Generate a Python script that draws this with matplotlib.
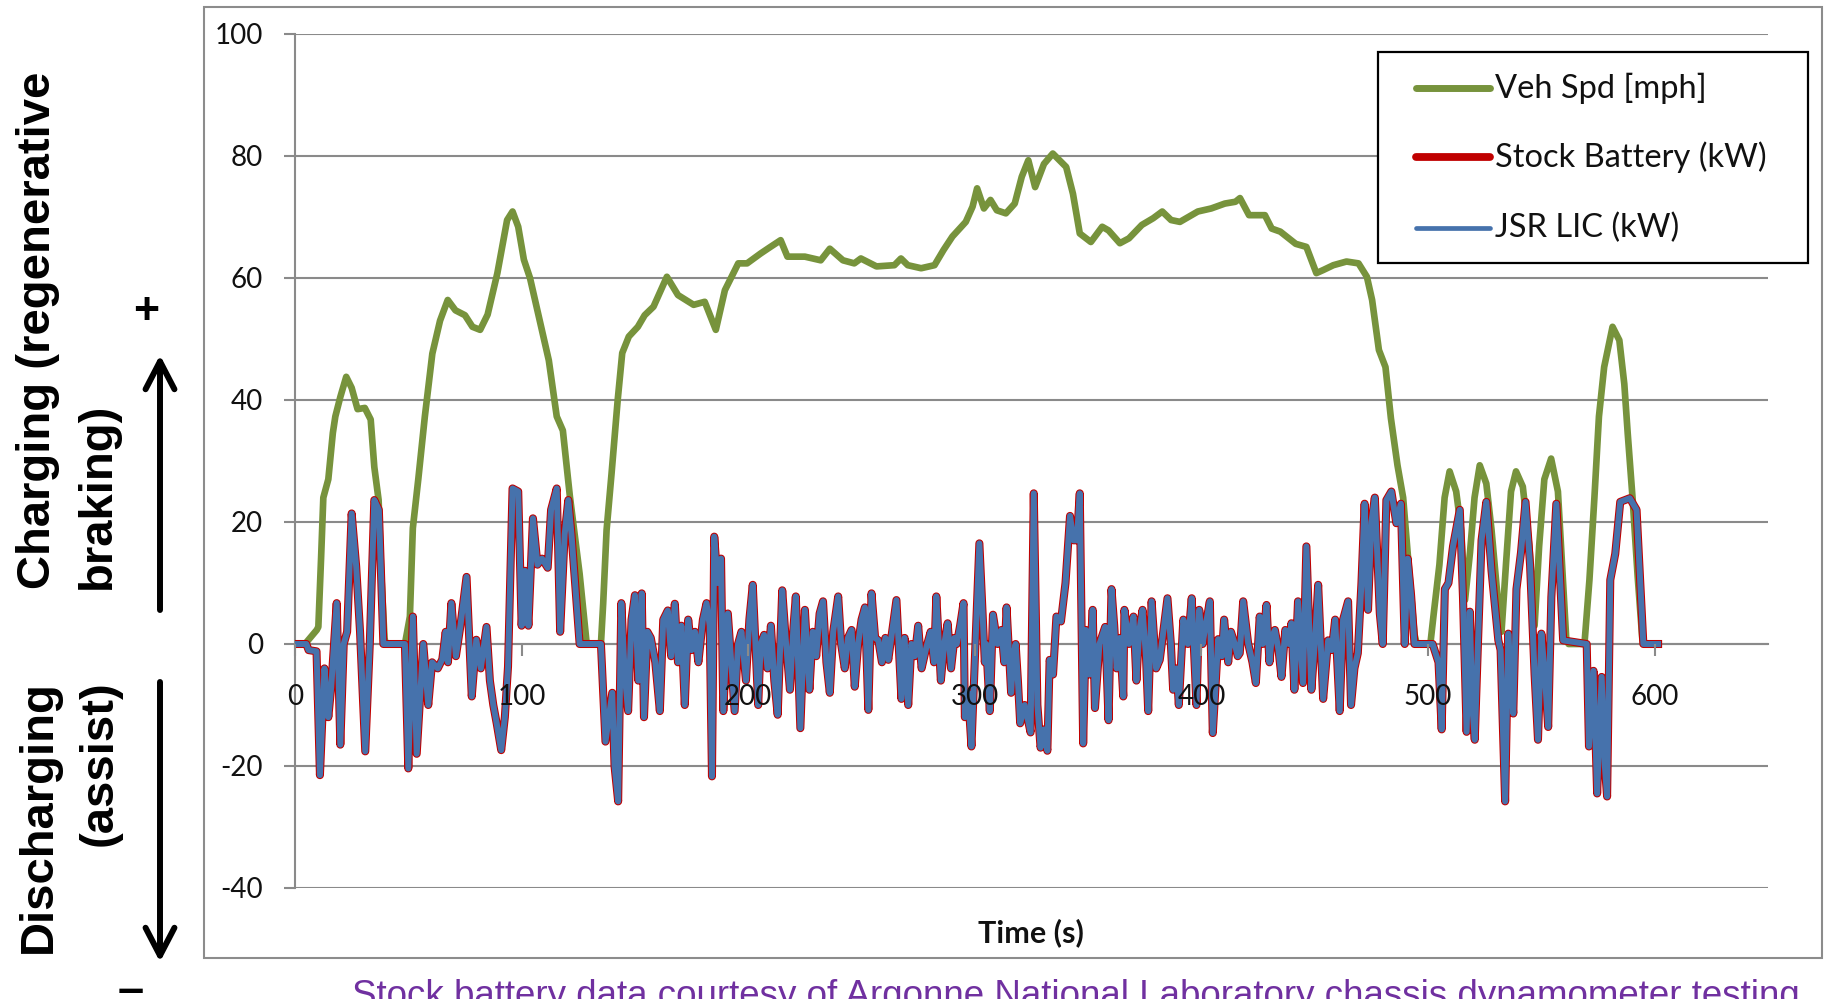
import matplotlib
matplotlib.use("Agg")
import matplotlib.pyplot as plt
from matplotlib.patches import Rectangle, FancyArrowPatch
from matplotlib.lines import Line2D

plt.rcParams["axes.unicode_minus"] = False

# --- Data ---
# vehicle speed [mph]
speed_t = [0, 4.4, 9.6, 10.3, 11.5, 12.5, 14.7, 16.7, 17.8, 20, 22.6, 25, 27.6, 30.8, 33.4, 35, 36.9, 38, 39.5, 40,
           48.5, 50.7, 52, 54.4, 57.3, 60.6, 64, 67.4, 70.8, 75, 78.3, 81.7, 85, 89.3, 93.6, 96, 98.5, 101, 103.7,
           108, 112, 115.5, 118.2, 121.3, 125.6, 128.6, 129.5, 135, 136, 137.5, 139.7, 142.4, 144.4, 147.3, 151.3,
           154.3, 158.2, 164.1, 169, 175.9, 180.8, 185.7, 189.7, 195.6, 199.5, 205.4, 209.4, 214.3, 217.3, 225,
           232, 236, 241.8, 246.8, 249.7, 256.6, 264.5, 267.4, 270.4, 276.3, 282.2, 286.2, 290.1, 296, 299, 301,
           304, 306.9, 309.7, 313.7, 317.6, 320.7, 323.6, 326.6, 330.5, 334.4, 340.3, 343.3, 346.3, 351.2, 356.2,
           359, 364, 368, 373.7, 378.7, 382.7, 386.6, 390.5, 398.4, 404.3, 410.3, 415, 417, 421, 428, 431, 434.8,
           441.6, 446.3, 450.7, 453.7, 458.2, 464, 469.3, 473, 475.3, 478.3, 481.2, 483.6, 486.5, 489, 491, 494,
           495, 501, 502.5, 505, 507.3, 509.5, 512.4, 514.6, 516.3, 518.5, 520.5, 522.8, 525.7, 528, 530.9, 532.4,
           534.4, 536.6, 538.8, 541.8, 544.7, 547, 549, 551.3, 554.3, 557.3, 559.5, 561, 562, 569, 571.2, 573.4,
           575.4, 577.7, 581.4, 584.4, 586.6, 588.1, 590.3, 592.5, 594.5, 595, 601]
speed_mph = [0, 0, 2.3, 2.8, 14, 24, 27, 34.6, 37.3, 40.5, 43.8, 42, 38.5, 38.7, 36.8, 29, 23.6, 12, 1, 0,
             0, 4.5, 19, 27, 37.3, 47.6, 53, 56.4, 54.7, 53.9, 52, 51.5, 54, 60.8, 69.5, 70.9, 68.4, 63, 60,
             53, 46.5, 37.3, 35, 24.2, 11.5, 0.5, 0, 0, 6.7, 18.7, 28, 40, 47.7, 50.4, 52,
             53.9, 55.3, 60.2, 57.2, 55.6, 56.1, 51.5, 58, 62.4, 62.4, 64, 65, 66.2, 63.5, 63.5,
             62.9, 64.8, 62.9, 62.4, 63.2, 61.9, 62.1, 63.2, 62.1, 61.6, 62.1, 64.6, 66.8, 69.2, 71.7, 74.7,
             71.4, 72.8, 71.1, 70.6, 72.2, 76.6, 79.3, 74.9, 78.7, 80.4, 78.2, 73.8, 67.3, 65.9, 68.4,
             67.8, 65.7, 66.5, 68.7, 69.8, 70.9, 69.5, 69.2, 70.9, 71.4, 72.2, 72.5, 73.1, 70.3, 70.3, 68.1, 67.6,
             65.6, 65.1, 60.8, 61.3, 62.1, 62.7, 62.4, 60.2, 56.4, 48.2, 45.4, 37, 29.3, 24, 14.9, 1.6,
             0, 0, 5, 13, 24, 28.3, 25, 18.7, 7.2, 15, 24, 29.3, 26.3, 18.7, 6.7, 2,
             13.2, 25, 28.3, 25.8, 16, 3, 16, 27, 30.4, 25, 10.5, 0.7, 0, 0, 10.5, 24,
             37.3, 45.4, 52, 49.8, 42.6, 34.5, 23.6, 11, 1, 0, 0]

# battery power [kW]; the JSR LIC trace sits on top of the stock battery trace
power_t = [0, 5, 6, 9.5, 11, 13, 14.7, 16, 18.4, 20, 21.5, 23, 25, 27, 28.7, 31, 33, 35, 37, 39, 48.5, 50, 52,
           53.7, 56.6, 58.8, 60.5, 63, 65, 66.5, 67.5, 69, 71, 73, 75.7, 78, 80, 82, 84.5, 86, 87.5, 89, 91, 92.6,
           94, 96, 98.5, 100, 101.5, 103, 105, 107, 109, 111.5, 113, 115.5, 117, 119, 120.6, 122, 124, 125.6, 135,
           137, 138.5, 140, 141, 142.6, 144, 145.5, 147, 148.5, 150, 151.5, 153, 154, 155.5, 157, 159, 161, 162.5,
           164.5, 166, 167.6, 169, 170.5, 172, 173.5, 175, 176.5, 178, 180, 181.6, 183, 184, 185, 186.5, 188, 189,
           191, 192.5, 194, 195.5, 197, 199, 200.5, 202, 204.4, 205.5, 207, 208.5, 210, 211.5, 213, 215, 216.5,
           218.4, 220, 221, 223, 225, 227, 228.5, 230, 231.5, 233, 234.5, 236, 237.5, 239.7, 241, 242.6, 244,
           245.6, 247, 248.5, 250, 251.5, 253, 254.4, 256, 257.4, 259, 260.5, 261.8, 263.5, 265.4, 267.6, 269,
           270.6, 272, 273.5, 275, 276.5, 278.7, 280.5, 282, 283, 285, 286.5, 288, 289.5, 291, 292, 293.5, 295,
           295.6, 297, 298.5, 300.5, 302, 304.4, 305, 306.6, 308, 310, 311.7, 313, 314, 316, 317, 318, 319, 320,
           322, 324.6, 326, 327.6, 329, 330.5, 332, 333, 334.5, 336, 338, 340, 342, 343.5, 345, 346.3, 347.8, 349,
           350.5, 352, 353, 355, 357.5, 359, 360.3, 361.5, 362.6, 364, 365.5, 366, 368, 370, 371.3, 372.5, 374,
           375.5, 376.5, 378, 380, 381.6, 383.5, 385, 386.5, 387.5, 389, 390, 392, 394, 395.7, 397.8, 399, 400.5,
           401.5, 403.7, 405, 406.5, 407.4, 409, 410, 411.8, 413, 414.7, 416, 416.9, 418.4, 420.6, 422.5, 424,
           425.7, 427, 428.7, 430, 431, 432.4, 434, 435.3, 437, 438.5, 439.7, 441, 442.6, 444.8, 446.3, 447.5,
           448.5, 450, 451.5, 453.7, 455.9, 457.5, 459, 461, 462.5, 464.7, 466, 467.5, 469, 470.6, 472, 473.5,
           475, 476.5, 478.7, 480, 481.6, 483.8, 486, 488, 489.7, 491, 492.5, 494, 502, 504.6, 506, 507.4, 509,
           511, 514, 515.4, 517, 518.4, 519.5, 520.6, 522, 523.6, 525.7, 528, 531, 532, 534, 535.4, 536.5, 537.6,
           539, 541, 543, 545, 547, 548.5, 550, 551.5, 553, 554.4, 556.6, 559.6, 570, 571, 573, 574.6, 576.6,
           578, 579, 580.4, 582.6, 584.8, 589, 592, 595, 601.5]
power_kw = [0, 0, -1, -1.2, -21.5, -4, -12, -7, 6.7, -16.5, 0, 2, 21.4, 12.7, 2, -17.6, 0, 23.6, 22, 0, 0, -20.4, 4.5,
            -18, 0, -10, -3, -4, -2.5, 2, -3, 6.7, -2, 3, 11, -8.6, 0.7, -4, 2.8, -6, -10, -13, -17.4, -12,
            -3.7, 25.5, 25, 3, 12, 3, 20.6, 13, 14, 12.5, 22, 25.5, 2, 18, 23.6, 18, 8, 0, 0,
            -16, -12, -8, -20, -25.8, 6.7, -5, -11, 4, 8, -6, 8.3, -12, 2, 1, -3, -11, 4,
            5.5, -2, 6.6, -3, 3, -10, 4, -1, 2, -3, 4, 6.7, 3, -21.7, 17.6, 10, 14, -11,
            5, -3, -11, 0, 2, -6, 4, 9.7, -10, 0, 1.5, -4, 3, -6, -11.6, 8.8, 1,
            -7.5, 3, 7.8, -13.8, 5.6, -7.5, 2, -2, 5, 7, -3, -8, 2, 7.8, 0, -4, 1,
            2.3, -7, 0, 4, 6, -10.8, 8.3, 1, 0.6, -3, 1, -2.6, 2, 7.2, -9, 1,
            -10, 0, -2, 3, -4, -0.4, 2, -3, 7.8, -6, 0, 3.4, -4, 1, 0, 3, 6.7,
            -12, -8, -16.8, 2, 16.5, -3, 0, -11, 4.8, 0, 2.3, -3, 6, -8, -2, 0, -6, -13,
            -10, -14.5, 24.7, -10, -17, -14, -17.5, -2.6, -5, 4.5, 3.7, 10, 21, 17, 17, 24.7, -16.3, 2.3,
            -5, 5.6, -10.5, 0, 2.8, -12.5, 9, 3, -4, 1, -8.6, 5.6, 0, 4.5, -6, 2, 5.6,
            -2, -11, 7, -4, -2.6, 3, 7.5, 0, -7.5, -4, -10, 4, 0, 7.5, -10, 5.6, 0,
            2.3, 7, -14.6, -5, 0.8, -2, 4, -3, 2, 0, -2, -1.5, 7, 0.1, -3, -6.4,
            4.5, 0, 6.4, -3, 1, 2.3, -1, -5.4, 2.3, 0, 3.4, -7.5, 7, -6.4, 16, 3,
            -7.5, 0, 9.7, -9, 0.6, -1, 4, -11, 4, 7, -10, -4, -1.5, 10, 23, 5.6,
            20, 24, 5, 0, 23.6, 25, 19.8, 23, 0, 14, 8, 0, 0, -3, -14, 9, 10,
            16, 22, 7.7, -14.4, 5.3, -10, -15.7, 0, 17, 23.3, 12, 0.6, -1, -25.8, 1.7, -6, -11.4,
            9, 15, 23.3, 13, -5, -15.7, 1.7, -5, -13.6, 7.7, 23, 0.6, 0, -16.8, -4.4, -24.5, -5.4,
            -20, -25, 10.5, 14.8, 23.3, 23.9, 22, 0, 0]

series_labels = ["Veh Spd [mph]", "Stock Battery (kW)", "JSR LIC (kW)"]
x_ticks = [0, 100, 200, 300, 400, 500, 600]
y_ticks = [-40, -20, 0, 20, 40, 60, 80, 100]

GREEN = "#77933C"
RED = "#C00000"
BLUE = "#4672AC"
GRID = "#8a8a8a"

W, H = 1828, 999


def fx(px):
    return px / W


def fy(py):
    return 1 - py / H


fig = plt.figure(figsize=(W / 100, H / 100), dpi=100)
fig.patch.set_facecolor("white")

# outer chart frame
fig.add_artist(Rectangle((fx(204), fy(958)), fx(1822) - fx(204), fy(7) - fy(958),
                         transform=fig.transFigure, fill=False, edgecolor="#8c8c8c", lw=1.5, zorder=0))

ax = fig.add_axes([fx(295), fy(888), fx(1768) - fx(295), fy(34) - fy(888)])
ax.set_xlim(0, 650)
ax.set_ylim(-40, 100)

ax.plot(speed_t, speed_mph, color=GREEN, lw=4.8, solid_joinstyle="round", solid_capstyle="round", zorder=2)
ax.plot(power_t, power_kw, color=RED, lw=5.8, solid_joinstyle="round", zorder=3)
ax.plot(power_t, power_kw, color=BLUE, lw=4.3, solid_joinstyle="round", zorder=4)

ax.set_axisbelow(True)
ax.yaxis.grid(True, color=GRID, lw=1.5)
ax.set_yticks(y_ticks)
ax.set_xticks(x_ticks)
for s in ["top", "right"]:
    ax.spines[s].set_visible(False)
ax.spines["left"].set_color(GRID)
ax.spines["left"].set_linewidth(1.5)
ax.spines["bottom"].set_position(("data", 0))
ax.spines["bottom"].set_color(GRID)
ax.spines["bottom"].set_linewidth(1.5)
ax.spines["bottom"].set_zorder(1)
ax.spines["left"].set_zorder(1)

ax.tick_params(axis="y", direction="out", length=8, width=1.5, color=GRID, pad=15)
ax.tick_params(axis="x", direction="out", length=8.5, width=1.5, color=GRID, pad=20)
for lab in ax.get_xticklabels() + ax.get_yticklabels():
    lab.set_fontfamily("Lato")
    lab.set_fontsize(20)
    lab.set_color("#111111")
ax.xaxis.set_zorder(6)

fig.text(fx(1031), fy(933), "Time (s)", ha="center", va="center",
         family="Lato", weight="bold", size=22, color="#111111")

# legend box drawn by hand
fig.add_artist(Rectangle((fx(1378), fy(263)), fx(1808) - fx(1378), fy(52) - fy(263),
                         transform=fig.transFigure, facecolor="white", edgecolor="black", lw=1.6, zorder=10))
leg_rows = [88, 157, 228]
leg_colors = [GREEN, RED, BLUE]
leg_widths = [5.0, 5.6, 3.4]
for y, c, w, lab in zip(leg_rows, leg_colors, leg_widths, series_labels):
    fig.add_artist(Line2D([fx(1416), fx(1490)], [fy(y), fy(y)], transform=fig.transFigure,
                          color=c, lw=w, solid_capstyle="round", zorder=11))
    fig.text(fx(1495), fy(y), lab, ha="left", va="center", family="Lato", size=23.5,
             color="#111111", zorder=12)

# left side annotations
lbl = dict(family="Liberation Sans", weight="bold", size=34, rotation=90, color="black")
fig.text(fx(38), fy(589), "Charging (regenerative", ha="center", va="bottom", **lbl)
fig.text(fx(98), fy(589), "braking)", ha="center", va="bottom", **lbl)
fig.text(fx(39), fy(680), "Discharging", ha="center", va="top", **lbl)
fig.text(fx(100), fy(680), "(assist)", ha="center", va="top", **lbl)

arrow_kw = dict(arrowstyle="->,head_length=1.0,head_width=0.52", mutation_scale=20,
                lw=4.3, color="black", shrinkA=0, shrinkB=0, transform=fig.transFigure)
fig.add_artist(FancyArrowPatch((fx(160), fy(610)), (fx(160), fy(355)), **arrow_kw))
fig.add_artist(FancyArrowPatch((fx(160), fy(682)), (fx(160), fy(962)), **arrow_kw))
fig.text(fx(146), fy(312), "+", ha="center", va="center", family="Liberation Sans",
         weight="bold", size=32)
fig.text(fx(131), fy(991), "\u2013", ha="center", va="center", family="Liberation Sans",
         weight="bold", size=34)

# caption runs off the bottom edge, as in the original slide crop
fig.text(fx(352), fy(1006), "Stock battery data courtesy of Argonne National Laboratory chassis dynamometer testing",
         ha="left", va="baseline", family="Liberation Sans", size=26.5, color="#7030A0")

fig.savefig("out.png", dpi=100)
